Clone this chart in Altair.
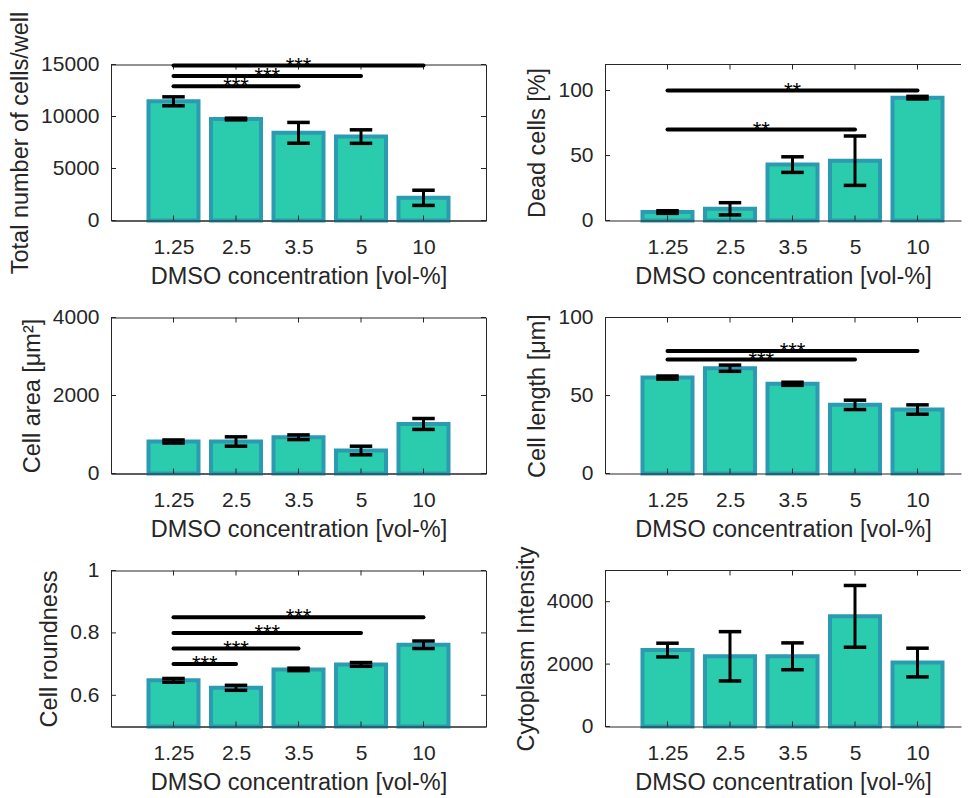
import altair as alt
import pandas as pd

# ---------------- data ----------------
categories = ["1.25", "2.5", "3.5", "5", "10"]
positions = [1, 2, 3, 4, 5]

total_mean = [11460, 9760, 8430, 8070, 2180]
total_err = [430, 80, 1000, 650, 730]
total_sig_from = [1, 1, 1]
total_sig_to = [3, 4, 5]
total_sig_level = [12900, 13900, 14900]
total_sig_label = ["***", "***", "***"]

dead_mean = [6.5, 9.0, 43.0, 46.0, 94.5]
dead_err = [1.0, 4.7, 6.0, 19.0, 1.0]
dead_sig_from = [1, 1]
dead_sig_to = [4, 5]
dead_sig_level = [70, 100]
dead_sig_label = ["**", "**"]

area_mean = [820, 820, 930, 590, 1270]
area_err = [40, 120, 60, 110, 140]

length_mean = [61.5, 67.5, 57.5, 44.0, 41.0]
length_err = [1.0, 2.0, 1.0, 3.0, 3.0]
length_sig_from = [1, 1]
length_sig_to = [4, 5]
length_sig_level = [73, 78.5]
length_sig_label = ["***", "***"]

round_mean = [0.648, 0.624, 0.683, 0.699, 0.762]
round_err = [0.006, 0.008, 0.004, 0.006, 0.012]
round_sig_from = [1, 1, 1, 1]
round_sig_to = [2, 3, 4, 5]
round_sig_level = [0.70, 0.75, 0.80, 0.85]
round_sig_label = ["***", "***", "***", "***"]

cyto_mean = [2450, 2250, 2250, 3530, 2050]
cyto_err = [220, 790, 430, 990, 460]

# ---------------- style ----------------
FONT = "Liberation Sans"
FILL = "#2bcbae"
EDGE = "#2a9bb0"
INK = "#262626"
W, H = 375, 156
W_RIGHT = 356          # right column is cut off by the picture edge
TICK = 5

label_expr = "[" + ",".join("'%s'" % c for c in categories) + "][datum.value - 1]"


def panel(mean, err, ytitle, ydom, yticks, yfmt, sig=None, right=False):
    w = W_RIGHT if right else W
    xmax = 6.0 * w / W
    df = pd.DataFrame({"pos": positions, "mean": mean, "err": err})
    base = alt.Chart(df)
    xs = alt.Scale(domain=[0, xmax], nice=False, zero=False)
    ys = alt.Scale(domain=ydom, nice=False, zero=False)
    xaxis = alt.Axis(values=positions, labelExpr=label_expr,
                     title="DMSO concentration [vol-%]", ticks=False, grid=False,
                     labelPadding=16, titlePadding=7, zindex=1, labelFlush=False)
    yaxis = alt.Axis(values=yticks, title=ytitle, ticks=False, grid=False,
                     labelPadding=12, titlePadding=8, zindex=1, format=yfmt,
                     labelFlush=False)

    bars = base.transform_calculate(
        x0="datum.pos - 0.4", x1="datum.pos + 0.4"
    ).mark_bar(fill=FILL, stroke=EDGE, strokeWidth=4).encode(
        x=alt.X("x0:Q", scale=xs, axis=xaxis),
        x2="x1:Q",
        y=alt.Y("mean:Q", scale=ys, axis=yaxis),
        y2=alt.datum(ydom[0]),
    )

    xt = pd.DataFrame({"pos": positions})
    yt = pd.DataFrame({"val": yticks})
    xtick_top = alt.Chart(xt).mark_rule(color=INK, strokeWidth=1).encode(
        x=alt.X("pos:Q", scale=xs, axis=xaxis), y=alt.value(0), y2=alt.value(TICK))
    xtick_bot = alt.Chart(xt).mark_rule(color=INK, strokeWidth=1).encode(
        x=alt.X("pos:Q", scale=xs, axis=xaxis), y=alt.value(H), y2=alt.value(H - TICK))
    ytick_l = alt.Chart(yt).mark_rule(color=INK, strokeWidth=1).encode(
        y=alt.Y("val:Q", scale=ys, axis=yaxis), x=alt.value(0), x2=alt.value(TICK))
    layers = [bars, xtick_top, xtick_bot, ytick_l]
    if right:
        # top frame line only (the right frame lies outside the picture)
        top_line = alt.Chart(xt).mark_rule(color=INK, strokeWidth=1).encode(
            x=alt.value(0), x2=alt.value(w), y=alt.value(0))
        layers.append(top_line)
    else:
        ytick_r = alt.Chart(yt).mark_rule(color=INK, strokeWidth=1).encode(
            y=alt.Y("val:Q", scale=ys, axis=yaxis), x=alt.value(w - TICK), x2=alt.value(w))
        layers.append(ytick_r)

    eb = base.transform_calculate(
        lo="datum.mean - datum.err", hi="datum.mean + datum.err",
        c0="datum.pos - 0.18", c1="datum.pos + 0.18")
    ev = eb.mark_rule(color="black", strokeWidth=3).encode(
        x=alt.X("pos:Q", scale=xs, axis=xaxis),
        y=alt.Y("lo:Q", scale=ys, axis=yaxis), y2="hi:Q")
    cap_lo = eb.mark_rule(color="black", strokeWidth=3.5).encode(
        x=alt.X("c0:Q", scale=xs, axis=xaxis), x2="c1:Q",
        y=alt.Y("lo:Q", scale=ys, axis=yaxis))
    cap_hi = eb.mark_rule(color="black", strokeWidth=3.5).encode(
        x=alt.X("c0:Q", scale=xs, axis=xaxis), x2="c1:Q",
        y=alt.Y("hi:Q", scale=ys, axis=yaxis))
    layers += [ev, cap_lo, cap_hi]

    if sig is not None:
        s_from, s_to, s_lvl, s_lab = sig
        sdf = pd.DataFrame({"a": s_from, "b": s_to, "lvl": s_lvl, "lab": s_lab})
        sb = alt.Chart(sdf)
        line = sb.mark_rule(color="black", strokeWidth=4, strokeCap="round").encode(
            x=alt.X("a:Q", scale=xs, axis=xaxis), x2="b:Q",
            y=alt.Y("lvl:Q", scale=ys, axis=yaxis))
        txt = sb.transform_calculate(mid="(datum.a + datum.b) / 2").mark_text(
            font=FONT, fontSize=22, baseline="middle", align="center", color="black"
        ).encode(
            x=alt.X("mid:Q", scale=xs, axis=xaxis),
            y=alt.Y("lvl:Q", scale=ys, axis=yaxis),
            text="lab:N")
        layers += [line, txt]

    ch = alt.layer(*layers).properties(width=w, height=H)
    if right:
        ch = ch.properties(view=alt.ViewBackground(stroke="transparent"))
    return ch


p1 = panel(total_mean, total_err, "Total number of cells/well", [0, 15000],
           [0, 5000, 10000, 15000], "d",
           (total_sig_from, total_sig_to, total_sig_level, total_sig_label))
p2 = panel(dead_mean, dead_err, "Dead cells [%]", [0, 120], [0, 50, 100], "d",
           (dead_sig_from, dead_sig_to, dead_sig_level, dead_sig_label), right=True)
p3 = panel(area_mean, area_err, "Cell area [μm²]", [0, 4000], [0, 2000, 4000], "d")
p4 = panel(length_mean, length_err, "Cell length [μm]", [0, 100], [0, 50, 100], "d",
           (length_sig_from, length_sig_to, length_sig_level, length_sig_label), right=True)
p5 = panel(round_mean, round_err, "Cell roundness", [0.5, 1.0], [0.6, 0.8, 1.0], "~g",
           (round_sig_from, round_sig_to, round_sig_level, round_sig_label))
p6 = panel(cyto_mean, cyto_err, "Cytoplasm Intensity", [0, 5000], [0, 2000, 4000], "d",
           right=True)

chart = alt.concat(
    p1, p2, p3, p4, p5, p6, columns=2,
    spacing={"row": 97, "column": 119}, bounds="flush",
).properties(
    padding={"left": 0, "top": 2.5, "right": 0, "bottom": 0}
).configure_axis(
    labelFont=FONT, titleFont=FONT, labelFontSize=21, titleFontSize=23.5,
    labelColor=INK, titleColor=INK, titleFontWeight="normal",
    domainColor=INK, domainWidth=1,
).configure_view(stroke=INK, strokeWidth=1)

chart.save("out.html", embed_options={"renderer": "svg", "actions": False})
